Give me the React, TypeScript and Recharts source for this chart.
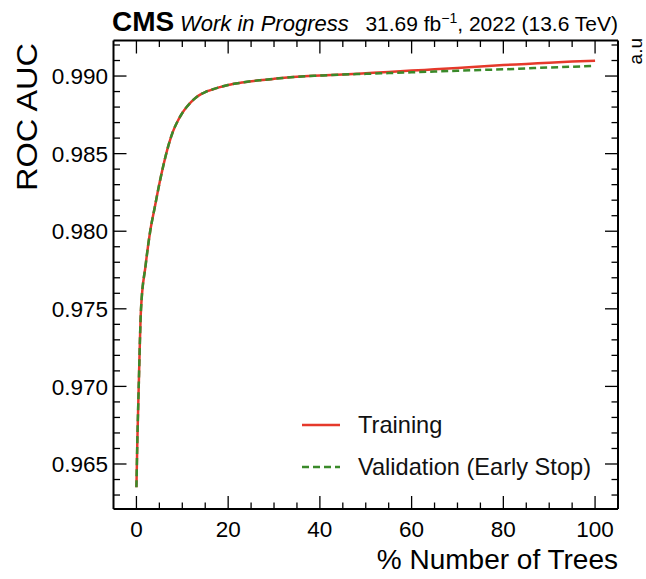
import React from 'react';
import { LineChart, Line, XAxis, YAxis, Legend } from 'recharts';

const FONT = "'Liberation Sans', Arial, Helvetica, sans-serif";
const RED = '#e5392b';
const GREEN = '#3a8a2a';

const percentTrees = [0, 0.2, 0.5, 1, 2, 3, 4, 5, 6, 7, 8, 9, 10, 11, 12, 13, 14, 15, 16, 18, 20, 23, 27, 30, 35, 40, 45, 50, 55, 60, 65, 70, 75, 80, 85, 90, 95, 100];
const trainingAuc = [0.9635, 0.9665, 0.97, 0.975, 0.9778, 0.98, 0.98155, 0.98306, 0.9844, 0.98555, 0.98645, 0.9871, 0.98762, 0.98802, 0.98835, 0.98862, 0.98882, 0.98897, 0.98908, 0.98927, 0.98942, 0.98958, 0.98973, 0.98982, 0.98995, 0.99003, 0.9901, 0.99018, 0.99026, 0.99035, 0.99043, 0.99052, 0.99062, 0.99071, 0.99078, 0.99086, 0.99093, 0.99099];
const validationAuc = [0.9635, 0.9665, 0.97, 0.975, 0.9778, 0.98, 0.98155, 0.98306, 0.9844, 0.98555, 0.98645, 0.9871, 0.98762, 0.98802, 0.98835, 0.98862, 0.98882, 0.98897, 0.98908, 0.98927, 0.98942, 0.98958, 0.98973, 0.98982, 0.98995, 0.99003, 0.9901, 0.99014, 0.99019, 0.99024, 0.99029, 0.99034, 0.99039, 0.99043, 0.99049, 0.99055, 0.9906, 0.99065];

const seriesNames = ['Training', 'Validation (Early Stop)'];

const xMajorTicks = [0, 20, 40, 60, 80, 100];
const xMinorTicks = [5, 10, 15, 25, 30, 35, 45, 50, 55, 65, 70, 75, 85, 90, 95];
const yMajorTicks = [0.965, 0.97, 0.975, 0.98, 0.985, 0.99];
const yTickLabels = ['0.965', '0.970', '0.975', '0.980', '0.985', '0.990'];
const yMinorTicks = [0.963, 0.964, 0.966, 0.967, 0.968, 0.969, 0.971, 0.972, 0.973, 0.974, 0.976, 0.977, 0.978, 0.979, 0.981, 0.982, 0.983, 0.984, 0.986, 0.987, 0.988, 0.989, 0.991, 0.992];
const xDomain = [-5, 105];
const yDomain = [0.9621, 0.99229];

const data = percentTrees.map((x, i) => ({ x, training: trainingAuc[i], validation: validationAuc[i] }));
const xTicks = [...xMajorTicks, ...xMinorTicks];
const yTicks = [...yMajorTicks, ...yMinorTicks];

const MAJ = 13;
const MIN = 6.5;
const TW = 1.3;

const BottomTick = (p: any) => {
  const v = p.payload.value;
  const major = xMajorTicks.includes(v);
  return (
    <g>
      <line x1={p.x} x2={p.x} y1={p.y} y2={p.y - (major ? MAJ : MIN)} stroke="#000" strokeWidth={TW} />
      {major && (
        <text x={p.x} y={p.y + 28} textAnchor="middle" fontSize={22.5} fontFamily={FONT} fill="#000">{v}</text>
      )}
    </g>
  );
};

const TopTick = (p: any) => {
  const major = xMajorTicks.includes(p.payload.value);
  return <line x1={p.x} x2={p.x} y1={p.y} y2={p.y + (major ? MAJ : MIN)} stroke="#000" strokeWidth={TW} />;
};

const LeftTick = (p: any) => {
  const v = p.payload.value;
  const idx = yMajorTicks.indexOf(v);
  const major = idx >= 0;
  return (
    <g>
      <line x1={p.x} x2={p.x + (major ? MAJ : MIN)} y1={p.y} y2={p.y} stroke="#000" strokeWidth={TW} />
      {major && (
        <text x={p.x - 5.5} y={p.y} dy="0.36em" textAnchor="end" fontSize={22.5} fontFamily={FONT} fill="#000">{yTickLabels[idx]}</text>
      )}
    </g>
  );
};

const RightTick = (p: any) => {
  const major = yMajorTicks.includes(p.payload.value);
  return <line x1={p.x} x2={p.x - (major ? MAJ : MIN)} y1={p.y} y2={p.y} stroke="#000" strokeWidth={TW} />;
};

const LegendContent = (props: any) => {
  const items = props.payload || [];
  return (
    <div style={{ fontFamily: FONT }}>
      {items.map((e: any, i: number) => (
        <div key={i} style={{ display: 'flex', alignItems: 'center', height: 42 }}>
          <svg width={40} height={10} style={{ marginLeft: 2 }}>
            <line x1={0} x2={38} y1={5} y2={5} stroke={e.color} strokeWidth={2.5}
              strokeDasharray={i === 1 ? '7 4' : undefined} />
          </svg>
          <span style={{ marginLeft: 16, fontSize: 23.6, color: '#111', lineHeight: '42px' }}>{e.value}</span>
        </div>
      ))}
    </div>
  );
};

const axisLineStyle = { stroke: '#000', strokeWidth: 2 };

export default function App() {
  return (
    <div style={{ position: 'absolute', left: 0, top: 0, width: 646, height: 579, background: '#fff' }}>
      <LineChart width={646} height={579} data={data}
        margin={{ top: 39.5, right: 27, bottom: 69, left: 112.5 }}>
        <XAxis dataKey="x" type="number" domain={xDomain} allowDataOverflow ticks={xTicks} interval={0}
          height={1} tickSize={0} tickMargin={0} tickLine={false} tick={<BottomTick />}
          axisLine={axisLineStyle} />
        <XAxis xAxisId="top" orientation="top" dataKey="x" type="number" domain={xDomain} allowDataOverflow
          ticks={xTicks} interval={0} height={1} tickSize={0} tickMargin={0} tickLine={false} tick={<TopTick />}
          axisLine={axisLineStyle} />
        <YAxis type="number" domain={yDomain} allowDataOverflow ticks={yTicks} interval={0} width={1}
          tickSize={0} tickMargin={0} tickLine={false} tick={<LeftTick />}
          axisLine={axisLineStyle} />
        <YAxis yAxisId="right" orientation="right" type="number" domain={yDomain} allowDataOverflow ticks={yTicks}
          interval={0} width={1} tickSize={0} tickMargin={0} tickLine={false} tick={<RightTick />}
          axisLine={axisLineStyle} />
        <Line type="monotone" dataKey="training" name={seriesNames[0]} stroke={RED} strokeWidth={2.5}
          dot={false} activeDot={false} isAnimationActive={false} />
        <Line type="monotone" dataKey="validation" name={seriesNames[1]} stroke={GREEN} strokeWidth={2.5}
          strokeDasharray="7 4" dot={false} activeDot={false} isAnimationActive={false} />
        <Legend layout="vertical" align="center" verticalAlign="middle" content={<LegendContent />}
          wrapperStyle={{ position: 'absolute', left: 300, top: 404, width: 330, height: 84 }} />
      </LineChart>
      <svg width={646} height={579} style={{ position: 'absolute', left: 0, top: 0, pointerEvents: 'none' }}>
        <text x={112} y={31} fontSize={28} fontWeight="bold" fontFamily={FONT} fill="#000">CMS</text>
        <text x={180} y={31} fontSize={22} fontStyle="italic" fontFamily={FONT} fill="#000">Work in Progress</text>
        <text x={618} y={31} textAnchor="end" fontSize={21} fontFamily={FONT} fill="#000">
          31.69 fb<tspan fontSize={14} dy={-8}>−1</tspan><tspan dy={8}>, 2022 (13.6 TeV)</tspan>
        </text>
        <text x={37} y={43} transform="rotate(-90 37 43)" textAnchor="end" fontSize={29} fontFamily={FONT}
          fill="#000" textLength={148} lengthAdjust="spacingAndGlyphs">ROC AUC</text>
        <text x={618} y={569} textAnchor="end" fontSize={28} fontFamily={FONT} fill="#000">% Number of Trees</text>
        <text x={642} y={38} transform="rotate(-90 642 38)" textAnchor="end" fontSize={19} fontFamily={FONT} fill="#000">a.u</text>
      </svg>
    </div>
  );
}
